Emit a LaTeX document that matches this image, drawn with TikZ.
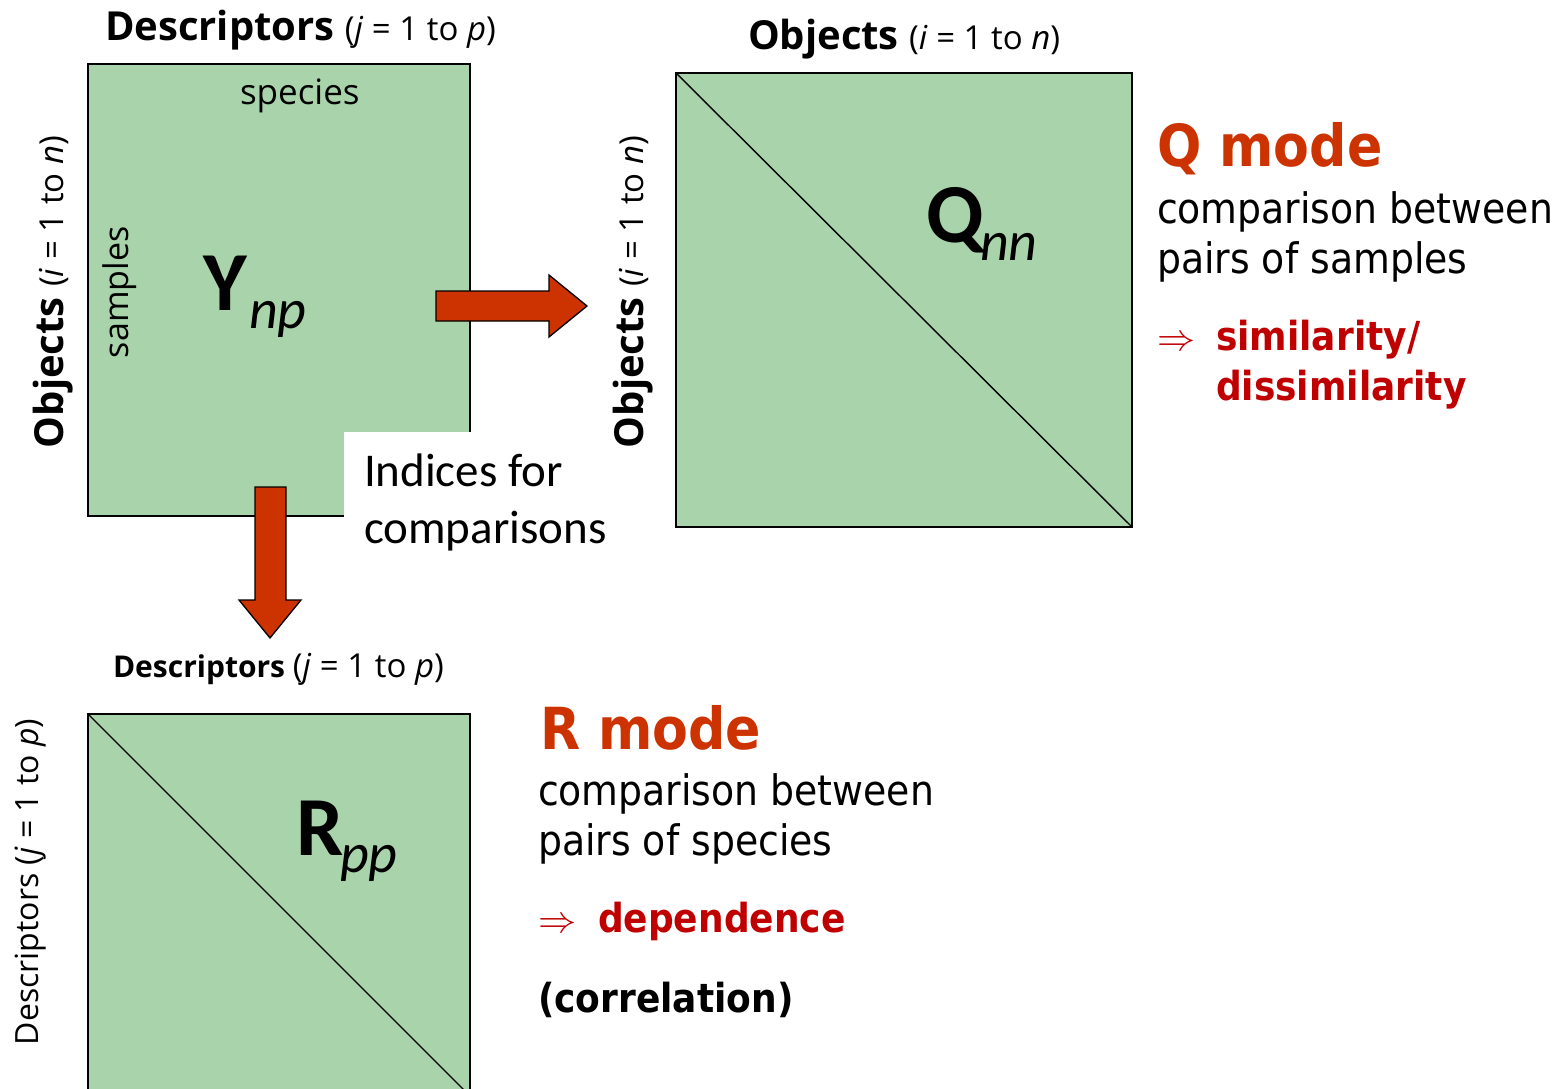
\documentclass[tikz,border=0pt]{standalone}
\usepackage{fontspec}
\setmainfont{Open Sans}
\newfontfamily\calib{Carlito}
\newfontfamily\modef[FakeStretch=0.9]{DejaVu Sans}
\newcommand\fsz[1]{\fontsize{#1}{#1}\selectfont}
\newcommand\bigimpl{\scalebox{3.8}{$\Rightarrow$}}
\definecolor{matgreen}{RGB}{169,212,171}
\definecolor{arrowred}{RGB}{204,51,0}
\definecolor{modered}{RGB}{204,51,0}
\definecolor{simred}{RGB}{192,0,0}
\tikzset{
  mat/.style={draw=black, line width=1.4pt, fill=matgreen, inner sep=0pt, outer sep=0pt, anchor=north west},
  diag/.style={draw=black, line width=1.4pt},
  bigarrow/.style={draw=black, line width=1.3pt, fill=arrowred, line join=miter},
  txt/.style={inner sep=0pt, outer sep=0pt, anchor=base west},
}
\begin{document}
\begin{tikzpicture}[x=1pt,y=-1pt]
\clip (0,0) rectangle (1566,1089);
\fill[white] (0,0) rectangle (1566,1089);

% Y matrix
\node[mat, minimum width=382pt, minimum height=452pt] (Y) at (88,64) {};
\fill[white] (344,432) rectangle (640,570);
\node[txt] (spec) at (240,105) {\fsz{35}species};
\node[txt, rotate=90] (samp) at (128,358) {\fsz{34}samples};
\node[txt] (Yl) at (203,310) {\calib\bfseries\fsz{84}Y};
\node[txt] (Ys) at (249,328) {\calib\itshape\fsz{56}np};
\node[txt] (dlab) at (105,41) {\fsz{40}\bfseries Descriptors \fsz{33}\mdseries(\textit{j} = 1 to \textit{p})};
\node[txt, rotate=90] (olab) at (63,448) {\fsz{40}\bfseries Objects \fsz{33}\mdseries(\textit{i} = 1 to \textit{n})};

% Indices text
\node[txt] (ind1) at (364,486) {\calib\fsz{47}Indices for};
\node[txt] (ind2) at (364,543) {\calib\fsz{47}comparisons};

% arrows
\coordinate (ra) at (436,306);
\draw[bigarrow] (ra) ++(0,-15) -- (549,291) -- (549,275) -- (587,306) -- (549,337) -- (549,321) -- (436,321) -- cycle;
\coordinate (da) at (270,487);
\draw[bigarrow] (da) ++(-15,0) -- (286,487) -- (286,600) -- (301,600) -- (270,638) -- (239,600) -- (255,600) -- cycle;

% Q matrix
\node[mat, minimum width=456pt, minimum height=454pt] (Q) at (676,73) {};
\draw[diag] (Q.north west) -- (Q.south east);
\node[txt] (qlab) at (748,50) {\fsz{40}\bfseries Objects \fsz{33}\mdseries(\textit{i} = 1 to \textit{n})};
\node[txt, rotate=90] (qlab2) at (643,448) {\fsz{40}\bfseries Objects \fsz{33}\mdseries(\textit{i} = 1 to \textit{n})};
\node[txt] (Ql) at (926,242) {\calib\bfseries\fsz{84}Q};
\node[txt] (Qs) at (980,260) {\calib\itshape\fsz{56}nn};

% Q mode text
\node[txt, text=modered] (qm) at (1157,167) {\modef\bfseries\fsz{58}Q mode};
\node[txt] (qc1) at (1157,223) {\modef\fsz{42}comparison between};
\node[txt] (qc2) at (1157,273) {\modef\fsz{42}pairs of samples};
\node[txt, text=simred] (qa) at (1157,350) {\bigimpl};
\node[txt, text=simred] (qs1) at (1216,350) {\modef\bfseries\fsz{40}similarity/};
\node[txt, text=simred] (qs2) at (1216,400) {\modef\bfseries\fsz{40}dissimilarity};

% R matrix
\node[mat, minimum width=382pt, minimum height=382pt] (R) at (88,714) {};
\draw[diag] (R.north west) -- (R.south east);
\node[txt] (rlab) at (113,677) {\fsz{30}\bfseries Descriptors \fsz{33}\mdseries(\textit{j} = 1 to \textit{p})};
\node[txt, rotate=90] (rlab2) at (38,1045) {\fsz{32}Descriptors (\textit{j} = 1 to \textit{p})};
\node[txt] (Rl) at (296,855) {\calib\bfseries\fsz{84}R};
\node[txt] (Rs) at (340,872) {\calib\itshape\fsz{56}pp};

% R mode text
\node[txt, text=modered] (rm) at (540,749) {\modef\bfseries\fsz{58}R mode};
\node[txt] (rc1) at (538,805) {\modef\fsz{42}comparison between};
\node[txt] (rc2) at (538,855) {\modef\fsz{42}pairs of species};
\node[txt, text=simred] (ra2) at (538,932) {\bigimpl};
\node[txt, text=simred] (rd) at (598,932) {\modef\bfseries\fsz{40}dependence};
\node[txt] (rcor) at (538,1012) {\modef\bfseries\fsz{40}(correlation)};
\end{tikzpicture}
\end{document}
